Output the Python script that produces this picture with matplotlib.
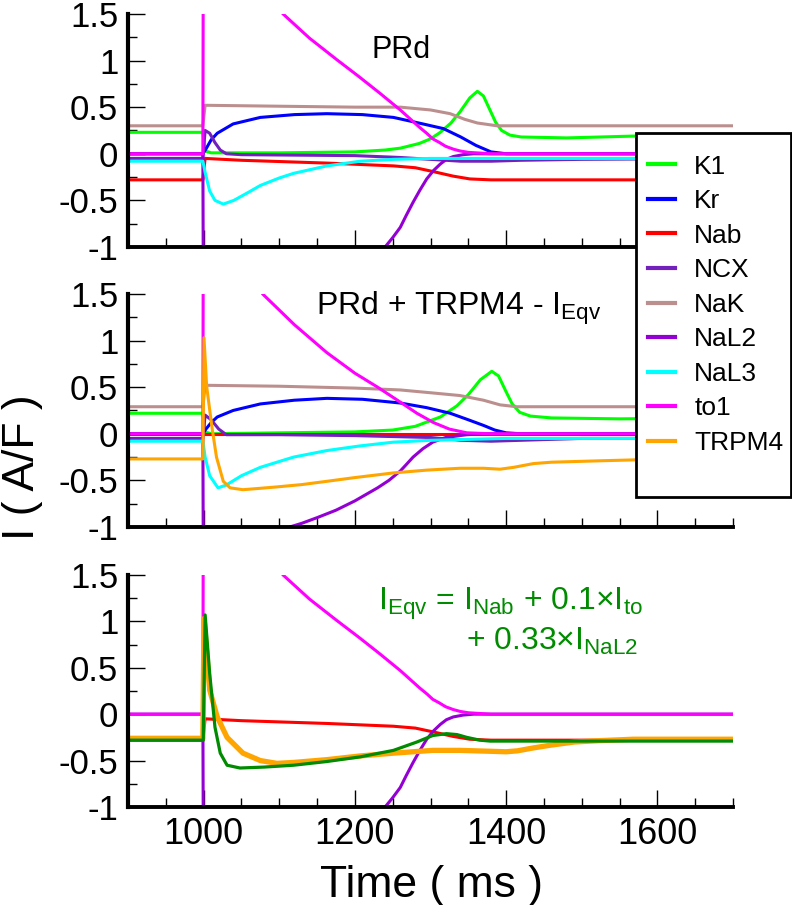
import matplotlib
matplotlib.use("Agg")
import matplotlib.pyplot as plt
from matplotlib.patches import Rectangle
from matplotlib.ticker import MultipleLocator, FuncFormatter

plt.rcParams['font.family'] = ['Liberation Sans', 'DejaVu Sans']
plt.rcParams['mathtext.default'] = 'regular'
plt.rcParams['axes.unicode_minus'] = False

# ---- data: (time ms, current A/F) ----
# PRd (top panel); to1, NaL2 and Nab are reused in the bottom panel
K1_PRD = [(900, 0.23), (999, 0.23), (1002, 0.03), (1010, 0.01), (1100, 0.01), (1200, 0.02),
          (1240, 0.04), (1260, 0.06), (1285, 0.11), (1300, 0.16), (1313, 0.23), (1327, 0.33),
          (1339, 0.45), (1352, 0.6), (1362, 0.67), (1370, 0.62), (1378, 0.48), (1386, 0.34),
          (1394, 0.25), (1405, 0.2), (1420, 0.18), (1480, 0.17), (1570, 0.19), (1700, 0.2)]
KR_PRD = [(900, 0), (999, 0), (1003, 0.05), (1010, 0.15), (1018, 0.22), (1039, 0.32),
          (1075, 0.39), (1120, 0.42), (1163, 0.43), (1210, 0.42), (1251, 0.39), (1290, 0.32),
          (1317, 0.27), (1340, 0.18), (1360, 0.09), (1380, 0.02), (1400, 0.0), (1700, 0.0)]
NAB_PRD = [(900, -0.28), (999, -0.28), (1002, -0.05), (1050, -0.07), (1163, -0.1),
           (1251, -0.13), (1280, -0.15), (1303, -0.19), (1330, -0.24), (1352, -0.27),
           (1380, -0.28), (1700, -0.28)]
NCX_PRD = [(900, -0.05), (999, -0.05), (1002, 0.25), (1008, 0.22), (1015, 0.12), (1022, 0.04),
           (1030, 0.0), (1050, -0.01), (1200, -0.02), (1260, -0.04), (1300, -0.06),
           (1340, -0.08), (1380, -0.08), (1420, -0.07), (1500, -0.06), (1700, -0.05)]
NAK_PRD = [(900, 0.3), (999, 0.3), (1002, 0.52), (1100, 0.51), (1200, 0.5), (1260, 0.5),
           (1300, 0.47), (1326, 0.43), (1345, 0.37), (1362, 0.33), (1388, 0.3), (1700, 0.3)]
NAL2_PRD = [(900, 0), (999, 0), (1001.5, -6), (1100, -3), (1200, -1.5), (1240, -1.0),
            (1250, -0.9), (1260, -0.79), (1268, -0.66), (1277, -0.52), (1286, -0.39),
            (1295, -0.27), (1304, -0.18), (1313, -0.11), (1321, -0.06), (1330, -0.03),
            (1343, -0.01), (1357, 0.0), (1700, 0.0)]
NAL3_PRD = [(900, -0.08), (999, -0.08), (1002, -0.2), (1008, -0.4), (1015, -0.5), (1026, -0.54),
            (1040, -0.5), (1060, -0.41), (1075, -0.34), (1100, -0.26), (1119, -0.21),
            (1163, -0.13), (1207, -0.08), (1251, -0.06), (1300, -0.05), (1700, -0.05)]
TO1_PRD = [(900, 0), (999, 0), (1001, 8), (1050, 3), (1080, 1.8), (1105, 1.5), (1140, 1.24),
           (1176, 1.01), (1205, 0.83), (1233, 0.65), (1260, 0.47), (1286, 0.28), (1295, 0.22),
           (1303, 0.16), (1312, 0.12), (1320, 0.08), (1330, 0.05), (1339, 0.03),
           (1350, 0.015), (1360, 0.01), (1380, 0.0), (1700, 0.0)]

# PRd + TRPM4 - I_Eqv (middle panel)
K1_TR = [(900, 0.22), (999, 0.22), (1002, 0.02), (1010, 0.0), (1100, 0.01), (1200, 0.02),
         (1250, 0.04), (1280, 0.08), (1313, 0.18), (1335, 0.3), (1350, 0.42), (1366, 0.58),
         (1381, 0.67), (1390, 0.62), (1400, 0.45), (1408, 0.32), (1418, 0.23), (1432, 0.19),
         (1460, 0.17), (1550, 0.16), (1700, 0.17)]
KR_TR = [(900, 0), (999, 0), (1003, 0.05), (1010, 0.12), (1018, 0.18), (1039, 0.25),
         (1075, 0.32), (1120, 0.36), (1163, 0.38), (1210, 0.37), (1260, 0.33), (1295, 0.28),
         (1326, 0.22), (1350, 0.15), (1370, 0.09), (1385, 0.04), (1400, 0.01), (1420, 0.0),
         (1700, 0.0)]
NAB_TR = [(900, 0.0), (1700, 0.0)]
NCX_TR = [(900, -0.05), (999, -0.05), (1002, 0.2), (1010, 0.15), (1020, 0.05), (1030, -0.01),
          (1100, -0.01), (1200, -0.02), (1300, -0.04), (1340, -0.07), (1380, -0.08),
          (1420, -0.07), (1500, -0.05), (1700, -0.05)]
NAK_TR = [(900, 0.29), (999, 0.29), (1002, 0.52), (1100, 0.51), (1200, 0.49), (1260, 0.47),
          (1300, 0.44), (1339, 0.41), (1370, 0.36), (1392, 0.31), (1414, 0.29), (1700, 0.29)]
NAL2_TR = [(900, 0), (999, 0), (1001.5, -6), (1050, -2), (1114, -1.0), (1130, -0.96),
           (1150, -0.9), (1175, -0.82), (1200, -0.72), (1215, -0.65), (1230, -0.58),
           (1245, -0.5), (1260, -0.4), (1268, -0.33), (1277, -0.25), (1290, -0.16),
           (1303, -0.09), (1320, -0.04), (1348, -0.01), (1370, 0.0), (1700, 0.0)]
NAL3_TR = [(900, -0.08), (999, -0.08), (1002, -0.25), (1008, -0.45), (1019, -0.58),
           (1030, -0.55), (1050, -0.45), (1075, -0.36), (1119, -0.25), (1163, -0.18),
           (1207, -0.13), (1251, -0.09), (1300, -0.07), (1400, -0.05), (1700, -0.05)]
TO1_TR = [(900, 0), (999, 0), (1001, 8), (1040, 2.5), (1078, 1.5), (1120, 1.17), (1163, 0.87),
          (1200, 0.65), (1230, 0.5), (1260, 0.34), (1282, 0.22), (1304, 0.12), (1325, 0.05),
          (1348, 0.01), (1380, 0.0), (1700, 0.0)]
TRPM4_TR = [(900, -0.27), (999, -0.27), (1000.5, 1.03), (1004, 0.51), (1011, 0.07),
            (1017, -0.25), (1026, -0.51), (1035, -0.58), (1052, -0.6), (1075, -0.585),
            (1097, -0.57), (1130, -0.545), (1163, -0.51), (1200, -0.47), (1251, -0.42),
            (1295, -0.39), (1339, -0.37), (1370, -0.37), (1392, -0.38), (1410, -0.36),
            (1436, -0.32), (1460, -0.305), (1524, -0.29), (1570, -0.28), (1700, -0.27)]

# bottom panel
TRPM4_EQ = [(900, -0.26), (999, -0.26), (1000.5, 1.03), (1008, 0.26), (1018, -0.03),
            (1031, -0.25), (1052, -0.42), (1075, -0.5), (1097, -0.53), (1119, -0.52),
            (1163, -0.49), (1207, -0.45), (1251, -0.42), (1303, -0.39), (1339, -0.39),
            (1380, -0.4), (1400, -0.405), (1415, -0.395), (1435, -0.365), (1458, -0.335),
            (1490, -0.3), (1524, -0.285), (1568, -0.27), (1700, -0.27)]
IEQV = [(900, -0.28), (999.5, -0.28), (1002, 1.07), (1008, 0.44), (1015, -0.14), (1022, -0.42),
        (1031, -0.55), (1048, -0.58), (1080, -0.57), (1119, -0.55), (1163, -0.51),
        (1207, -0.46), (1251, -0.39), (1282, -0.3), (1303, -0.23), (1321, -0.21),
        (1335, -0.22), (1348, -0.25), (1365, -0.28), (1379, -0.29), (1700, -0.29)]

LABELS = ["K1", "Kr", "Nab", "NCX", "NaK", "NaL2", "NaL3", "to1", "TRPM4"]
COLORS = {"K1": "#00ff00", "Kr": "#0000ff", "Nab": "#ff0000", "NCX": "#7221bc",
          "NaK": "#bc8f8f", "NaL2": "#9400d3", "NaL3": "#00ffff", "to1": "#ff00ff",
          "TRPM4": "#ffa500"}
EQV_COLOR = "#008b00"

panel1 = {"K1": K1_PRD, "Kr": KR_PRD, "Nab": NAB_PRD, "NCX": NCX_PRD, "NaK": NAK_PRD,
          "NaL2": NAL2_PRD, "NaL3": NAL3_PRD, "to1": TO1_PRD}
panel2 = {"K1": K1_TR, "Kr": KR_TR, "Nab": NAB_TR, "NCX": NCX_TR, "NaK": NAK_TR,
          "NaL2": NAL2_TR, "NaL3": NAL3_TR, "to1": TO1_TR, "TRPM4": TRPM4_TR}


def xy(pts):
    return [p[0] for p in pts], [p[1] for p in pts]


def style_axes(ax, show_xlabels):
    ax.set_xlim(900, 1700)
    ax.set_ylim(-1, 1.5)
    for side in ("top", "right"):
        ax.spines[side].set_visible(False)
    ax.spines["left"].set_linewidth(3)
    ax.spines["bottom"].set_linewidth(2.8)
    ax.xaxis.set_major_locator(MultipleLocator(200))
    ax.xaxis.set_minor_locator(MultipleLocator(50))
    ax.yaxis.set_major_locator(MultipleLocator(0.5))
    ax.yaxis.set_minor_locator(MultipleLocator(0.25))
    ax.yaxis.set_major_formatter(FuncFormatter(lambda v, p: f"{v:g}"))
    ax.tick_params(which="both", direction="in", top=False, right=False, width=1)
    ax.tick_params(which="major", length=12.5)
    ax.tick_params(which="minor", length=6.5)
    ax.tick_params(axis="y", labelsize=25, pad=7)
    ax.tick_params(axis="x", labelsize=26, pad=7, labelbottom=show_xlabels)


fig = plt.figure(figsize=(7.92, 9.05), dpi=100)
left, width = 128 / 792, 605 / 792
ax1 = fig.add_axes([left, 0.7271, width, 0.2575])
ax2 = fig.add_axes([left, 0.4177, width, 0.2575])
ax3 = fig.add_axes([left, 0.1083, width, 0.2564])

for ax, data in ((ax1, panel1), (ax2, panel2)):
    for name in LABELS:
        if name in data:
            x, y = xy(data[name])
            ax.plot(x, y, color=COLORS[name], lw=2.2, label=name)

# bottom panel
for name, pts in (("Nab", NAB_PRD), ("NaL2", NAL2_PRD), ("to1", TO1_PRD)):
    x, y = xy(pts)
    ax3.plot(x, y, color=COLORS[name], lw=2.2)
x, y = xy(TRPM4_EQ)
ax3.plot(x, y, color=COLORS["TRPM4"], lw=3.8)
x, y = xy(IEQV)
ax3.plot(x, y, color=EQV_COLOR, lw=2.3)

style_axes(ax1, False)
style_axes(ax2, False)
style_axes(ax3, True)

ax1.text(0.451, 0.811, "PRd", transform=ax1.transAxes, fontsize=22, ha="center", va="baseline")
ax2.text(0.31, 0.91, "PRd + TRPM4 - $I_{Eqv}$", transform=ax2.transAxes, fontsize=23,
         ha="left", va="baseline")
ax3.text(0.413, 0.849, "$I_{Eqv}$ = $I_{Nab}$ + 0.1×$I_{to}$", transform=ax3.transAxes,
         fontsize=23, color=EQV_COLOR, ha="left", va="baseline")
ax3.text(0.558, 0.677, "+ 0.33×$I_{NaL2}$", transform=ax3.transAxes,
         fontsize=23, color=EQV_COLOR, ha="left", va="baseline")

# legend box drawn separately so that its padding can match the original
fig.patches.append(Rectangle((636 / 792, 1 - 497 / 905), 155 / 792, 364 / 905,
                             transform=fig.transFigure, facecolor="white",
                             edgecolor="black", lw=2, zorder=4))
handles, labels = ax2.get_legend_handles_labels()
leg = fig.legend(handles, labels, loc="upper left", bbox_to_anchor=(637 / 792, 1 - 144 / 905),
                 fontsize=19, frameon=False, handlelength=1.05, handletextpad=0.72,
                 labelspacing=0.40, borderpad=0.4, borderaxespad=0)
leg.set_zorder(5)
for line in leg.get_lines():
    line.set_linewidth(3)

fig.text(0.003, 0.484, "I ( A/F )", rotation=90, ha="left", va="center", fontsize=32)
fig.text(432 / 792, 1 - 897 / 905, "Time ( ms )", ha="center", va="baseline", fontsize=32)

fig.savefig("out.png", dpi=100)
